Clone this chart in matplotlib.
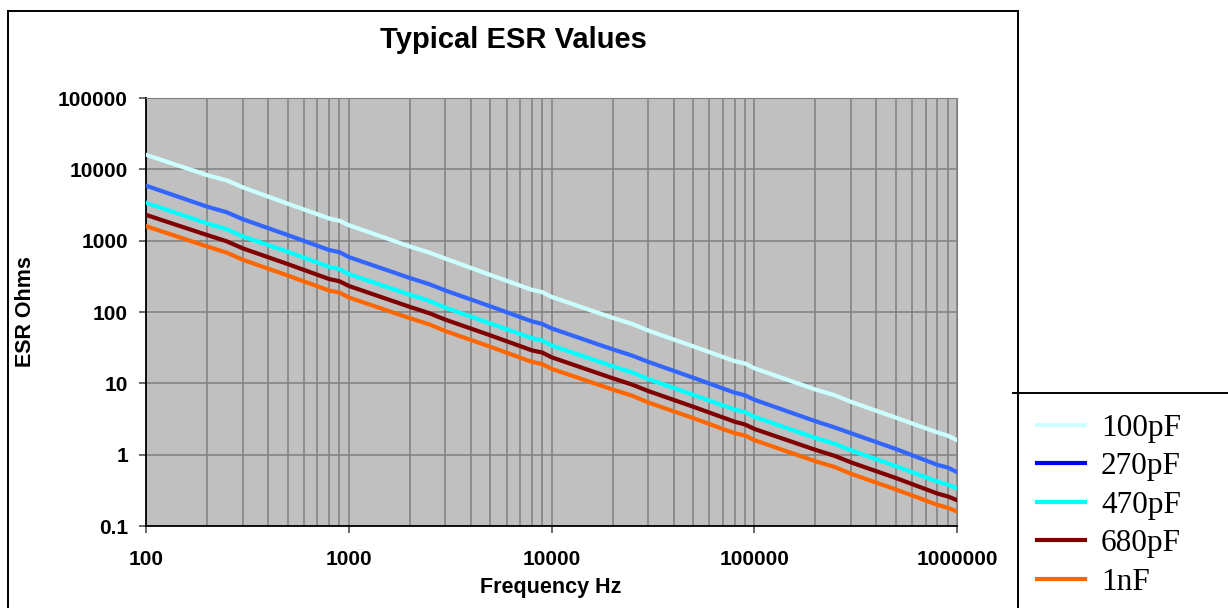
import matplotlib
matplotlib.use("Agg")
import matplotlib.pyplot as plt
from matplotlib.lines import Line2D
from matplotlib.ticker import FixedLocator, FixedFormatter, NullFormatter

# frequencies in Hz
freq = [100, 200, 250, 300, 500, 800, 900,
        1000, 2000, 2500, 3000, 5000, 8000, 9000,
        10000, 20000, 25000, 30000, 50000, 80000, 90000,
        100000, 200000, 250000, 300000, 500000, 800000, 900000,
        1000000]

esr_100pF = [16000, 8300, 7000, 5600, 3300, 2050, 1900,
             1650, 830, 680, 560, 330, 205, 190,
             163, 83, 68, 55, 33, 20.5, 19,
             16.3, 8.2, 6.8, 5.5, 3.3, 2.05, 1.85,
             1.6]
esr_270pF = [5900, 3000, 2500, 2000, 1200, 740, 690,
             590, 300, 245, 200, 120, 74, 68,
             59, 30, 24.5, 20, 12, 7.4, 6.8,
             5.9, 2.95, 2.4, 2.0, 1.2, 0.72, 0.66,
             0.57]
esr_470pF = [3400, 1750, 1450, 1150, 700, 430, 400,
             340, 175, 143, 115, 69, 43, 40,
             34, 17.4, 14.2, 11.5, 6.9, 4.3, 3.95,
             3.4, 1.72, 1.42, 1.15, 0.69, 0.42, 0.38,
             0.34]
esr_680pF = [2300, 1200, 980, 780, 470, 290, 270,
             232, 118, 96, 78, 47, 29, 27,
             23.2, 11.8, 9.6, 7.8, 4.7, 2.9, 2.65,
             2.3, 1.17, 0.96, 0.78, 0.47, 0.285, 0.26,
             0.23]
esr_1nF = [1600, 830, 680, 540, 325, 200, 187,
           160, 82, 67, 54, 32.5, 20, 18.6,
           16, 8.2, 6.7, 5.4, 3.25, 2.0, 1.86,
           1.6, 0.81, 0.67, 0.54, 0.325, 0.198, 0.18,
           0.16]

labels = ["100pF", "270pF", "470pF", "680pF", "1nF"]
series = [esr_100pF, esr_270pF, esr_470pF, esr_680pF, esr_1nF]
line_colors = ["#CCFFFF", "#3366FF", "#00FFFF", "#800000", "#FF6600"]
legend_colors = ["#CCFFFF", "#0000FF", "#00FFFF", "#800000", "#FF6600"]

x_ticks = [100, 1000, 10000, 100000, 1000000]
y_ticks = [0.1, 1, 10, 100, 1000, 10000, 100000]
x_ticklabels = ["100", "1000", "10000", "100000", "1000000"]
y_ticklabels = ["0.1", "1", "10", "100", "1000", "10000", "100000"]

W, H = 1228, 608
fig = plt.figure(figsize=(W / 100, H / 100), dpi=100)
ax = fig.add_axes([146 / W, 1 - 526 / H, (957 - 146) / W, (526 - 98) / H])
ax.set_facecolor("#C0C0C0")

for vals, col in zip(series, line_colors):
    ax.plot(freq, vals, color=col, lw=3, solid_joinstyle="round", zorder=3)

ax.set_xscale("log")
ax.set_yscale("log")
ax.set_xlim(100, 1000000)
ax.set_ylim(0.1, 100000)

ax.xaxis.set_major_locator(FixedLocator(x_ticks))
ax.xaxis.set_major_formatter(FixedFormatter(x_ticklabels))
ax.xaxis.set_minor_formatter(NullFormatter())
ax.yaxis.set_major_locator(FixedLocator(y_ticks))
ax.yaxis.set_major_formatter(FixedFormatter(y_ticklabels))
ax.yaxis.set_minor_locator(FixedLocator([]))

ax.grid(True, which="both", axis="x", color="#808080", lw=1.1, zorder=1)
ax.grid(True, which="major", axis="y", color="#808080", lw=1.1, zorder=1)
ax.tick_params(axis="x", which="minor", length=0)
ax.tick_params(axis="both", which="major", direction="out", length=5,
               width=1.1, color="#404040")
ax.tick_params(axis="y", pad=8)
ax.tick_params(axis="x", pad=12)
for lab in ax.get_xticklabels() + ax.get_yticklabels():
    lab.set_fontfamily("Liberation Sans")
    lab.set_fontweight("bold")
    lab.set_fontsize(15)

ax.spines["left"].set_color("black")
ax.spines["bottom"].set_color("black")
ax.spines["left"].set_linewidth(1.3)
ax.spines["bottom"].set_linewidth(1.3)
ax.spines["top"].set_color("#808080")
ax.spines["right"].set_color("#808080")

fig.text(513 / W, 1 - 40 / H, "Typical ESR Values", ha="center", va="center",
         fontsize=21, fontweight="bold", family="Liberation Sans")
fig.text(551 / W, 1 - 588 / H, "Frequency Hz", ha="center", va="center",
         fontsize=15.5, fontweight="bold", family="Liberation Sans")
fig.text(26 / W, 1 - 312 / H, "ESR Ohms", ha="center", va="center",
         rotation=90, fontsize=15.5, fontweight="bold", family="Liberation Sans")

# chart border and legend box
border = dict(color="black", lw=1.4, transform=fig.transFigure)
fig.add_artist(Line2D([8 / W, 1018 / W], [1 - 11 / H, 1 - 11 / H], **border))
fig.add_artist(Line2D([8 / W, 8 / W], [1 - 11 / H, 0], **border))
fig.add_artist(Line2D([1018 / W, 1018 / W], [1 - 11 / H, 0], **border))
fig.add_artist(Line2D([1013 / W, 1], [1 - 393 / H, 1 - 393 / H], **border))

handles = [Line2D([], [], color=c, lw=3) for c in legend_colors]
fig.legend(handles, labels, loc="upper left",
           bbox_to_anchor=(1037 / W, 1 - 414 / H), frameon=False,
           prop={"family": "Liberation Serif", "size": 22.5},
           handlelength=1.55, handletextpad=0.5, labelspacing=0.3,
           borderpad=0, borderaxespad=0)

fig.savefig("out.png", dpi=100)
